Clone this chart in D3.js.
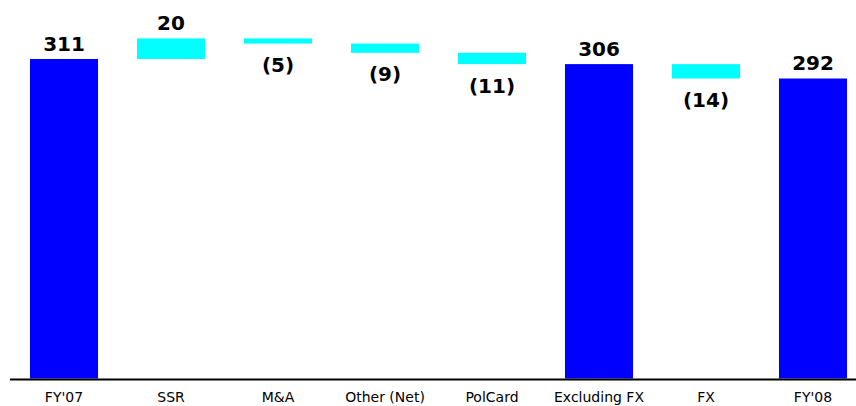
<!DOCTYPE html>
<html>
<head>
<meta charset="utf-8">
<script src="https://cdn.jsdelivr.net/npm/d3@7"></script>
<style>
  html, body { margin: 0; padding: 0; background: #fff; }
  svg { display: block; }
</style>
</head>
<body>
<svg id="chart" width="856" height="406"></svg>
<script>
const categories = ["FY'07", "SSR", "M&A", "Other (Net)", "PolCard", "Excluding FX", "FX", "FY'08"];
const values = [311, 20, -5, -9, -11, 306, -14, 292];
const kinds = ["total", "delta", "delta", "delta", "delta", "total", "delta", "total"];
const valueLabels = ["311", "20", "(5)", "(9)", "(11)", "306", "(14)", "292"];

const svg = d3.select("#chart");
const baseY = 378.5;

const x = d3.scaleBand()
  .domain(categories)
  .range([10.5, 866.5])
  .paddingInner(0.364)
  .paddingOuter(0.182);

const y = d3.scaleLinear()
  .domain([0, 368.4])
  .range([baseY, 0]);

let running = 0;
const bars = categories.map((c, i) => {
  let start, end;
  if (kinds[i] === "total") {
    start = 0; end = values[i]; running = values[i];
  } else {
    start = running; end = running + values[i]; running = end;
  }
  return { cat: c, start, end, kind: kinds[i], v: values[i], label: valueLabels[i] };
});

svg.append("g").selectAll("rect")
  .data(bars)
  .join("rect")
  .attr("x", d => x(d.cat))
  .attr("width", x.bandwidth())
  .attr("y", d => y(Math.max(d.start, d.end)))
  .attr("height", d => Math.abs(y(d.start) - y(d.end)))
  .attr("fill", d => d.kind === "total" ? "#0000ff" : "#00ffff");

svg.append("g").selectAll("text")
  .data(bars)
  .join("text")
  .attr("x", d => x(d.cat) + x.bandwidth() / 2)
  .attr("y", d => d.v >= 0 ? y(Math.max(d.start, d.end)) - 8 : y(Math.min(d.start, d.end)) + 28.5)
  .attr("text-anchor", "middle")
  .attr("font-family", "'DejaVu Sans', Verdana, sans-serif")
  .attr("font-weight", "bold")
  .attr("font-size", 20)
  .attr("fill", "#000")
  .text(d => d.label);

const axis = svg.append("g")
  .attr("transform", `translate(0,${baseY + 1})`)
  .call(d3.axisBottom(x).tickSize(0).tickPadding(0));

axis.select(".domain")
  .attr("d", `M10,0H856`)
  .attr("stroke", "#000")
  .attr("stroke-width", 2);

axis.selectAll(".tick text")
  .attr("y", 22)
  .attr("dy", null)
  .attr("font-family", "'DejaVu Sans', Verdana, sans-serif")
  .attr("font-size", 14)
  .attr("fill", "#000");
</script>
</body>
</html>
